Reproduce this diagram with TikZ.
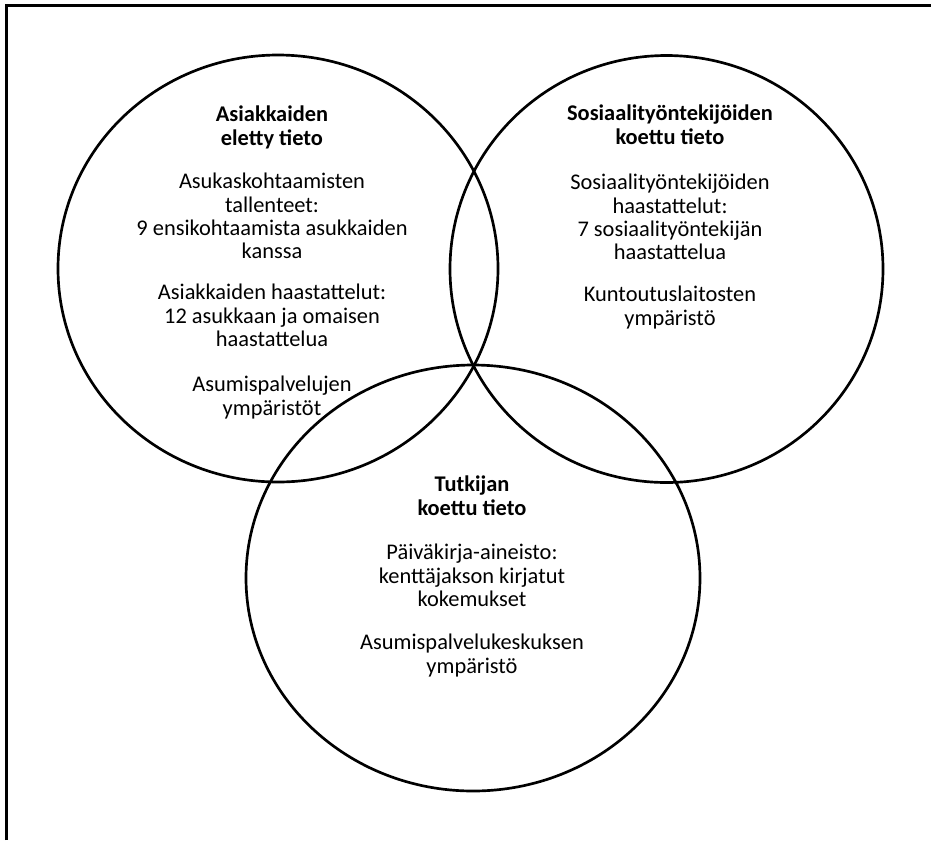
\documentclass[tikz,border=0pt]{standalone}
\usepackage{fontspec}
\setmainfont{Carlito}
\begin{document}
\begin{tikzpicture}[x=0.75pt,y=-0.75pt,
  venn/.style={line width=2pt,draw=black},
  frameline/.style={line width=2.2pt,draw=black},
  txt/.style={align=center,inner sep=0pt,anchor=base,font=\fontsize{16.8}{17.5}\selectfont},
  head/.style={txt,font=\fontsize{16.8}{17.5}\selectfont\bfseries}]
\useasboundingbox (0,0) rectangle (931,840);
% frame (top and left edges)
\coordinate (fTL) at (6.5,5.7);
\coordinate (fTR) at (931,5.7);
\coordinate (fBL) at (6.5,840);
\draw[frameline] (fBL) -- (fTL) -- (fTR);
% circles
\coordinate (cL) at (278,268.5);
\coordinate (cR) at (666.5,269);
\coordinate (cB) at (473,578);
\draw[venn] (cL) ellipse [x radius=220, y radius=213.5];
\draw[venn] (cR) ellipse [x radius=216.5, y radius=213.5];
\draw[venn] (cB) ellipse [x radius=227, y radius=213];
% left texts (base anchor = baseline of last line)
\node[head] (l1) at (272,145.3) {Asiakkaiden\\eletty tieto};
\node[txt] (l2) at (272,258.9) {Asukaskohtaamisten\\tallenteet:\\9 ensikohtaamista asukkaiden\\kanssa};
\node[txt] (l3) at (272,346.6) {Asiakkaiden haastattelut:\\12 asukkaan ja omaisen\\haastattelua};
\node[txt] (l4) at (272,415.3) {Asumispalvelujen\\ympäristöt};
% right texts
\node[head] (r1) at (670,144.3) {Sosiaalityöntekijöiden\\koettu tieto};
\node[txt] (r2) at (670,259.9) {Sosiaalityöntekijöiden\\haastattelut:\\7 sosiaalityöntekijän\\haastattelua};
\node[txt] (r3) at (670,325.3) {Kuntoutuslaitosten\\ympäristö};
% bottom texts
\node[head] (b1) at (472,515.3) {Tutkijan\\koettu tieto};
\node[txt] (b2) at (472,606.6) {Päiväkirja-aineisto:\\kenttäjakson kirjatut\\kokemukset};
\node[txt] (b3) at (472,673.3) {Asumispalvelukeskuksen\\ympäristö};
\end{tikzpicture}
\end{document}
